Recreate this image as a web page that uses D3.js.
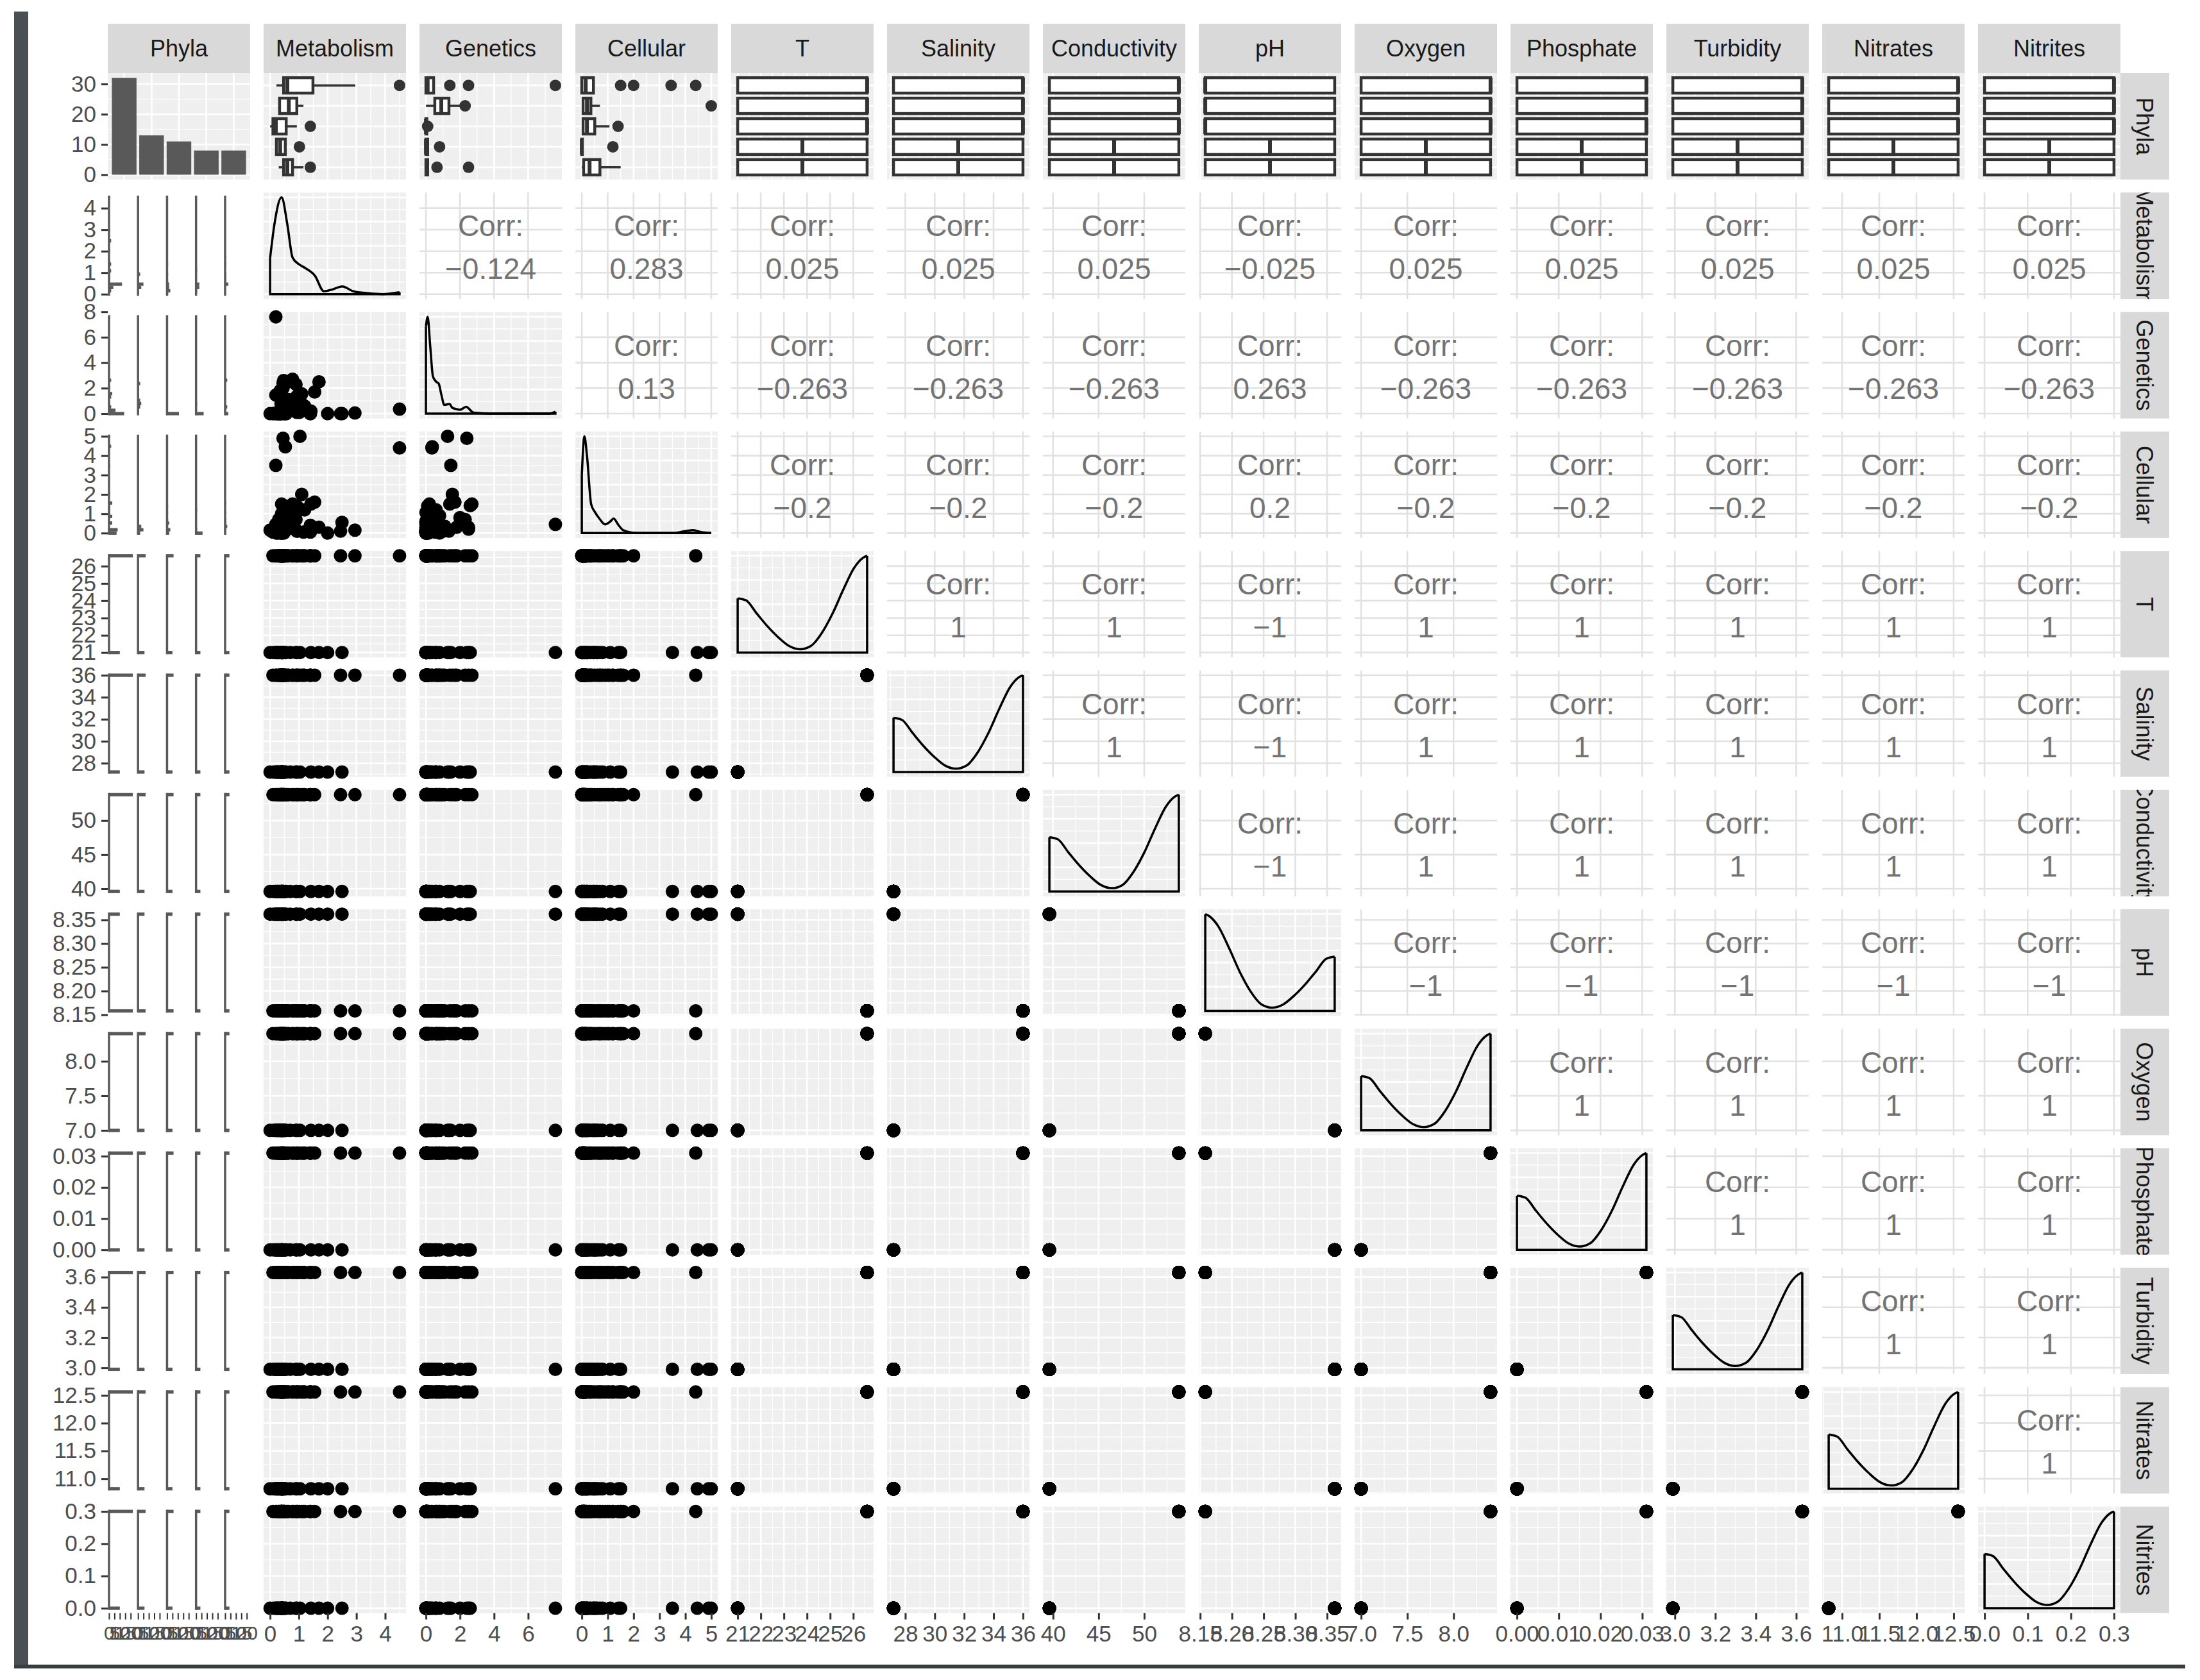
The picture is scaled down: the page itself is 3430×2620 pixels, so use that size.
<!DOCTYPE html>
<html lang="en">
<head>
	<meta charset="UTF-8">
	<title>phyla pairs</title>
	<script src="https://d3js.org/d3.v7.min.js"></script>
	<style type="text/css">
		body { margin: 0; background: #fff; }
		svg text { font-family: "Liberation Sans", Arial, sans-serif; }
	</style>
</head>
<body>
<script type="text/javascript">

var varNames = ['Phyla', 'Metabolism', 'Genetics', 'Cellular', 'T', 'Salinity', 'Conductivity', 'pH', 'Oxygen', 'Phosphate', 'Turbidity', 'Nitrates', 'Nitrites'];

// the environment variables only take two values: group A (1) and group B (0)
var envGroupA = [26.6, 36.0, 53.8, 8.158, 8.4, 0.031, 3.63, 12.56, 0.30];
var envGroupB = [21.0, 27.2, 39.6, 8.362, 7.0, 0.000, 2.99, 10.82, 0.00];

// observations
var obsPhylum = [
	1,1,1,1,1,1,1,1,1,1,1,1,1,1,1,1,1,1,1,1,1,1,
	2,2,2,2,2,2,2,
	3,3,3,3,3,3,
	4,4,4,4,
	5,5,5,5,
	1,1,1,1,1,1,1,1,1,1,
	2,2,2,2,2,2,
	3,3,3,3,3,
	4,4,4,4,
	5,5,5,5];
var obsGroup = [
	1,1,1,1,1,1,1,1,1,1,1,1,1,1,1,1,1,1,1,1,1,1,
	1,1,1,1,1,1,1,
	1,1,1,1,1,1,
	1,1,1,1,
	1,1,1,1,
	0,0,0,0,0,0,0,0,0,0,
	0,0,0,0,0,0,
	0,0,0,0,0,
	0,0,0,0,
	0,0,0,0];
var obsMetabolism = [
	0.30,0.35,0.40,0.42,0.45,0.38,0.48,0.50,0.36,0.44,0.40,0.95,1.20,0.40,1.10,1.55,2.45,2.95,4.50,0.60,0.80,1.40,
	0.40,0.45,0.65,0.90,1.16,0.35,0.50,
	0.10,0.20,0.40,0.56,0.93,1.40,
	0.22,0.40,1.02,0.30,
	0.47,0.50,0.78,1.40,
	0.20,0.20,0.53,1.04,0.47,1.42,2.00,2.50,0.40,0.45,
	0.33,0.42,0.93,0.45,0.38,0.70,
	0.12,0.25,0.40,0.00,0.30,
	0.25,0.40,0.44,0.35,
	0.55,0.42,1.70,0.90];
var obsGenetics = [
	0.00,0.00,0.05,0.05,0.10,0.00,0.15,0.00,0.10,0.20,0.05,0.35,0.60,1.40,1.55,1.70,0.00,0.05,0.35,2.50,0.80,0.00,
	1.00,0.70,1.10,2.30,0.55,1.80,0.90,
	0.00,0.00,0.05,0.00,0.10,0.00,
	0.05,0.80,0.10,0.00,
	0.00,0.65,2.70,0.10,
	7.60,1.46,0.37,1.27,2.60,0.20,0.00,0.00,0.60,2.00,
	0.00,0.52,1.35,2.40,0.80,0.30,
	0.00,0.00,0.00,0.00,0.05,
	0.00,0.10,0.05,0.00,
	0.00,0.60,2.50,0.20];
var obsCellular = [
	0.05,0.10,0.05,0.00,0.10,0.15,0.00,0.60,0.05,0.80,1.00,0.10,1.20,1.50,2.00,1.60,0.10,0.15,4.40,0.20,0.90,0.05,
	0.10,0.20,0.35,0.70,0.05,0.30,0.15,
	0.05,0.30,0.50,1.07,1.40,0.10,
	0.00,0.00,1.20,0.05,
	0.07,0.70,1.50,0.40,
	0.45,3.50,4.46,5.00,1.42,1.50,0.00,0.55,0.20,0.80,
	0.05,0.35,0.10,4.90,0.20,0.60,
	0.08,0.20,0.45,0.15,0.70,
	0.00,0.02,0.10,0.00,
	0.20,0.50,0.30,1.10];

// tick labels
var ticksX = [[], [0,1,2,3,4], [0,2,4,6], [0,1,2,3,4,5], [21,22,23,24,25,26], [28,30,32,34,36], [40,45,50],
	[8.15,8.20,8.25,8.30,8.35], [7.0,7.5,8.0], [0,0.01,0.02,0.03], [3.0,3.2,3.4,3.6], [11.0,11.5,12.0,12.5], [0,0.1,0.2,0.3]];
var ticksY = [[0,10,20,30], [0,1,2,3,4], [0,2,4,6,8], [0,1,2,3,4,5], [21,22,23,24,25,26], [28,30,32,34,36], [40,45,50],
	[8.15,8.20,8.25,8.30,8.35], [7.0,7.5,8.0], [0,0.01,0.02,0.03], [3.0,3.2,3.4,3.6], [11.0,11.5,12.0,12.5], [0,0.1,0.2,0.3]];
var tickDec = [0,0,0,0,0,0,0,2,1,2,1,1,1];
var facetTicks = [0, 5, 10, 15, 20];
var densTicks = [0, 0.25, 0.5, 0.75, 1];

// boxplots: [q1, median, q3, whisker low, whisker high]
var boxMetabolism = [[0.47,0.60,1.49,0.22,2.96], [0.33,0.65,0.93,0.30,1.16], [0.10,0.20,0.56,0.00,0.93], [0.22,0.35,0.53,0.20,0.55], [0.47,0.60,0.78,0.30,1.16]];
var outMetabolism = [[4.5], [], [1.4], [1.02], [1.4]];
var boxGenetics = [[0,0.10,0.45,0,0.45], [0.52,0.90,1.35,0,2.0], [0,0,0.05,0,0.05], [0,0,0.10,0,0.10], [0,0.05,0.10,0,0.10]];
var outGenetics = [[1.4,2.5,7.6], [2.3], [0.1], [0.8], [0.65,2.5]];
var boxCellular = [[0,0.15,0.45,0,0.45], [0.05,0.20,0.35,0,0.70], [0.05,0.20,0.50,0,1.07], [0,0,0.02,0,0.05], [0.07,0.30,0.70,0,1.50]];
var outCellular = [[1.5,2.0,3.45,4.4], [5.0], [1.4], [1.2], []];

// density curves (relative height)
var densMx = [0, 0.15, 0.4, 0.6, 0.78, 1.0, 1.22, 1.56, 1.87, 2.18, 2.51, 2.89, 3.4, 3.9, 4.5];
var densMy = [0.37, 0.72, 1.0, 0.72, 0.38, 0.31, 0.27, 0.19, 0.03, 0.05, 0.08, 0.03, 0.01, 0.0, 0.02];
var densGx = [0, 0.1, 0.25, 0.41, 0.6, 0.75, 0.9, 1.08, 1.38, 1.55, 1.72, 2.0, 2.36, 2.8, 4.0, 6.0, 7.2, 7.6];
var densGy = [0.9, 1.0, 0.7, 0.385, 0.33, 0.31, 0.2, 0.09, 0.1, 0.06, 0.05, 0.04, 0.07, 0.01, 0.0, 0.0, 0.0, 0.02];
var densCx = [0, 0.1, 0.2, 0.36, 0.5, 0.68, 0.9, 1.1, 1.23, 1.4, 1.6, 2.15, 3.5, 4.0, 4.3, 4.6, 5.0];
var densCy = [0.6, 1.0, 0.8, 0.3, 0.22, 0.15, 0.09, 0.12, 0.15, 0.09, 0.03, 0.0, 0.0, 0.02, 0.03, 0.01, 0.0];
// env vars: position from group B value (0) to group A value (1)
var densEnvT = [0, 0.064, 0.147, 0.231, 0.314, 0.398, 0.482, 0.565, 0.649, 0.732, 0.816, 0.9, 0.967, 1.0];
var densEnvH = [0.56, 0.54, 0.404, 0.27, 0.157, 0.067, 0.034, 0.067, 0.20, 0.40, 0.65, 0.876, 0.978, 1.0];

// correlations, upper triangle row by row
var corrMetabolism = [-0.124, 0.283, 0.025, 0.025, 0.025, -0.025, 0.025, 0.025, 0.025, 0.025, 0.025];
var corrGenetics = [0.13, -0.263, -0.263, -0.263, 0.263, -0.263, -0.263, -0.263, -0.263, -0.263];
var corrCellular = [-0.2, -0.2, -0.2, 0.2, -0.2, -0.2, -0.2, -0.2, -0.2];
var corrT = [1, 1, -1, 1, 1, 1, 1, 1];
var corrSalinity = [1, -1, 1, 1, 1, 1, 1];
var corrConductivity = [-1, 1, 1, 1, 1, 1];
var corrPH = [-1, -1, -1, -1, -1];
var corrOxygen = [1, 1, 1, 1];
var corrPhosphate = [1, 1, 1];
var corrTurbidity = [1, 1];
var corrNitrates = [1];
var corrRows = [null, corrMetabolism, corrGenetics, corrCellular, corrT, corrSalinity, corrConductivity,
	corrPH, corrOxygen, corrPhosphate, corrTurbidity, corrNitrates];

// ---- layout
var W = 3430, H = 2620;
var x0 = 168, colStep = 243, pw = 222;
var y0 = 114, rowStep = 186.3, ph = 166;
var nVar = varNames.length;
var dark = '#333333';
var panelGray = '#EFEFEF';
var fontFam = '"Liberation Sans", Arial, sans-serif';

var svg = d3.select('body').append('svg').attr('width', W).attr('height', H);
var defs = svg.append('defs');

function colX(j) { return x0 + j * colStep; }
function rowY(i) { return y0 + i * rowStep; }

function vals(k) {
	if (k === 1) return obsMetabolism;
	if (k === 2) return obsGenetics;
	if (k === 3) return obsCellular;
	return obsGroup.map(function (g) { return g === 1 ? envGroupA[k - 4] : envGroupB[k - 4]; });
}
function dom(k) {
	var e = d3.extent(vals(k));
	var pad = (e[1] - e[0]) * 0.05;
	return [e[0] - pad, e[1] + pad];
}
function xScale(k) { return d3.scaleLinear().domain(dom(k)).range([colX(k), colX(k) + pw]); }
function yScale(k) { return d3.scaleLinear().domain(dom(k)).range([rowY(k) + ph, rowY(k)]); }

function minorsOf(t, d) {
	var s = t[1] - t[0], out = [];
	for (var v = t[0] - s / 2; v <= d[1] + 1e-9; v += s) if (v >= d[0]) out.push(v);
	return out;
}
function inside(t, d) { return t.filter(function (v) { return v >= d[0] - 1e-9 && v <= d[1] + 1e-9; }); }

function vLines(g, xs, list, py, w, c) {
	g.selectAll(null).data(list).enter().append('line')
		.attr('x1', function (d) { return xs(d); }).attr('x2', function (d) { return xs(d); })
		.attr('y1', py).attr('y2', py + ph)
		.attr('stroke', c).attr('stroke-width', w);
}
function hLines(g, ys, list, px, w, c) {
	g.selectAll(null).data(list).enter().append('line')
		.attr('y1', function (d) { return ys(d); }).attr('y2', function (d) { return ys(d); })
		.attr('x1', px).attr('x2', px + pw)
		.attr('stroke', c).attr('stroke-width', w);
}
function grayBg(g, px, py) {
	g.append('rect').attr('x', px).attr('y', py).attr('width', pw).attr('height', ph).attr('fill', panelGray);
}
function gridX(g, xs, xt, py) {
	vLines(g, xs, minorsOf(xt, xs.domain()), py, 1.3, '#fff');
	vLines(g, xs, inside(xt, xs.domain()), py, 2.6, '#fff');
}
function gridY(g, ys, yt, px) {
	hLines(g, ys, minorsOf(yt, ys.domain()), px, 1.3, '#fff');
	hLines(g, ys, inside(yt, ys.domain()), px, 2.6, '#fff');
}

//--Phyla bar chart (top left)
function drawBars(g) {
	var px = colX(0), py = rowY(0);
	var counts = d3.range(1, 6).map(function (p) {
		return obsPhylum.filter(function (v) { return v === p; }).length;
	});
	var mx = d3.max(counts);
	var xs = d3.scaleLinear().domain([0.4, 5.6]).range([px, px + pw]);
	var ys = d3.scaleLinear().domain([-mx * 0.05, mx * 1.05]).range([py + ph, py]);
	grayBg(g, px, py);
	gridY(g, ys, ticksY[0], px);
	vLines(g, xs, [1, 2, 3, 4, 5], py, 2.6, '#fff');
	g.selectAll(null).data(counts).enter().append('rect')
		.attr('x', function (d, i) { return xs(i + 1 - 0.45); })
		.attr('width', xs(0.9) - xs(0))
		.attr('y', function (d) { return ys(d); })
		.attr('height', function (d) { return ys(0) - ys(d); })
		.attr('fill', '#595959');
	return ys;
}

//--boxplots in the top row
function boxStats(v) {
	v = v.slice().sort(d3.ascending);
	var q1 = d3.quantileSorted(v, 0.25), md = d3.quantileSorted(v, 0.5), q3 = d3.quantileSorted(v, 0.75);
	var iqr = q3 - q1;
	var lo = d3.min(v.filter(function (x) { return x >= q1 - 1.5 * iqr - 1e-9; }));
	var hi = d3.max(v.filter(function (x) { return x <= q3 + 1.5 * iqr + 1e-9; }));
	return { s: [q1, md, q3, lo, hi], out: v.filter(function (x) { return x < lo || x > hi; }) };
}
function drawBoxes(g, j) {
	var px = colX(j), py = rowY(0);
	var xs = xScale(j);
	var ys = d3.scaleLinear().domain([0.4, 5.6]).range([py, py + ph]);
	grayBg(g, px, py);
	gridX(g, xs, ticksX[j], py);
	hLines(g, ys, [1, 2, 3, 4, 5], px, 2.6, '#fff');
	var v = vals(j);
	for (var p = 1; p <= 5; p++) {
		var s, out;
		if (j === 1) { s = boxMetabolism[p - 1]; out = outMetabolism[p - 1]; }
		else if (j === 2) { s = boxGenetics[p - 1]; out = outGenetics[p - 1]; }
		else if (j === 3) { s = boxCellular[p - 1]; out = outCellular[p - 1]; }
		else {
			var st = boxStats(v.filter(function (d, i) { return obsPhylum[i] === p; }));
			s = st.s; out = st.out;
		}
		var yc = ys(p), hh = 12;
		g.append('line').attr('x1', xs(s[3])).attr('x2', xs(s[0])).attr('y1', yc).attr('y2', yc)
			.attr('stroke', dark).attr('stroke-width', 3.5);
		g.append('line').attr('x1', xs(s[2])).attr('x2', xs(s[4])).attr('y1', yc).attr('y2', yc)
			.attr('stroke', dark).attr('stroke-width', 3.5);
		g.append('rect').attr('x', xs(s[0])).attr('y', yc - hh)
			.attr('width', Math.max(0, xs(s[2]) - xs(s[0]))).attr('height', 2 * hh)
			.attr('fill', '#fff').attr('stroke', dark).attr('stroke-width', 4.5);
		g.append('line').attr('x1', xs(s[1])).attr('x2', xs(s[1])).attr('y1', yc - hh).attr('y2', yc + hh)
			.attr('stroke', dark).attr('stroke-width', 6);
		g.selectAll(null).data(out).enter().append('circle')
			.attr('cx', function (d) { return xs(d); }).attr('cy', yc).attr('r', 9).attr('fill', dark);
	}
}

//--faceted histograms in the Phyla column
var facetW = 41, facetGap = (pw - 5 * facetW) / 4;
function facetScale(p) {
	var fx = colX(0) + p * (facetW + facetGap);
	return d3.scaleLinear().domain([-1.15, 23.15]).range([fx, fx + facetW]);
}
function drawFacetHist(g, i) {
	var ys = yScale(i);
	var v = vals(i);
	var e = d3.extent(v);
	var bw = (e[1] - e[0]) / 29;
	for (var p = 0; p < 5; p++) {
		var fs = facetScale(p);
		var sub = v.filter(function (d, k) { return obsPhylum[k] === p + 1; });
		var counts = d3.rollup(sub, function (a) { return a.length; }, function (d) { return Math.round((d - e[0]) / bw); });
		g.append('line').attr('x1', fs(0)).attr('x2', fs(0))
			.attr('y1', ys(e[0] - bw / 2)).attr('y2', ys(e[1] + bw / 2))
			.attr('stroke', '#595959').attr('stroke-width', 3.5);
		g.selectAll(null).data(Array.from(counts)).enter().append('rect')
			.attr('x', fs(0))
			.attr('width', function (d) { return fs(d[1]) - fs(0); })
			.attr('y', function (d) { return ys(e[0] + d[0] * bw + bw / 2); })
			.attr('height', function (d) { return Math.max(5, ys(e[0] + d[0] * bw - bw / 2) - ys(e[0] + d[0] * bw + bw / 2)); })
			.attr('fill', '#595959');
	}
}

//--diagonal densities
function drawDensity(g, k) {
	var px = colX(k), py = rowY(k);
	var xs = xScale(k);
	var hs = d3.scaleLinear().domain([-0.05, 1.05]).range([py + ph, py]);
	grayBg(g, px, py);
	gridX(g, xs, ticksX[k], py);
	gridY(g, hs, densTicks, px);
	var xv, hv;
	if (k === 1) { xv = densMx; hv = densMy; }
	else if (k === 2) { xv = densGx; hv = densGy; }
	else if (k === 3) { xv = densCx; hv = densCy; }
	else {
		var a = envGroupA[k - 4], b = envGroupB[k - 4];
		xv = densEnvT.map(function (t) { return b + t * (a - b); });
		hv = densEnvH;
	}
	var pts = xv.map(function (x, i) { return [xs(x), hs(hv[i])]; });
	pts.sort(function (p, q) { return p[0] - q[0]; });
	var first = pts[0], last = pts[pts.length - 1];
	g.append('path')
		.attr('d', 'M' + first[0] + ',' + first[1] + 'L' + first[0] + ',' + hs(0) + 'L' + last[0] + ',' + hs(0) + 'L' + last[0] + ',' + last[1])
		.attr('fill', 'none').attr('stroke', '#000').attr('stroke-width', 3.5);
	g.append('path')
		.attr('d', d3.line().curve(d3.curveMonotoneX)(pts))
		.attr('fill', 'none').attr('stroke', '#000').attr('stroke-width', 3.5);
}

//--scatter plots in the lower triangle
function drawScatter(g, i, j) {
	var px = colX(j), py = rowY(i);
	var xs = xScale(j), ys = yScale(i);
	grayBg(g, px, py);
	gridX(g, xs, ticksX[j], py);
	gridY(g, ys, ticksY[i], px);
	var xv = vals(j), yv = vals(i);
	g.selectAll(null).data(xv).enter().append('circle')
		.attr('cx', function (d) { return xs(d); })
		.attr('cy', function (d, k) { return ys(yv[k]); })
		.attr('r', 10.5).attr('fill', '#000');
}

//--correlation text in the upper triangle
function drawCorr(g, i, j) {
	var px = colX(j), py = rowY(i);
	var xs = xScale(j), ys = yScale(i);
	g.append('rect').attr('x', px).attr('y', py).attr('width', pw).attr('height', ph).attr('fill', '#fff');
	vLines(g, xs, inside(ticksX[j], xs.domain()), py, 2.6, '#E2E2E2');
	hLines(g, ys, inside(ticksY[i], ys.domain()), px, 2.6, '#E2E2E2');
	var v = corrRows[i][j - i - 1];
	var cx = px + pw / 2, cy = py + ph / 2;
	g.append('text').attr('x', cx).attr('y', cy - 31).attr('dy', '0.35em')
		.attr('text-anchor', 'middle').style('font-size', '46px').attr('fill', '#737373').text('Corr:');
	g.append('text').attr('x', cx).attr('y', cy + 36).attr('dy', '0.35em')
		.attr('text-anchor', 'middle').style('font-size', '46px').attr('fill', '#737373')
		.text((v < 0 ? '\u2212' : '') + String(Math.abs(v)));
}

var countScale;
for (var i = 0; i < nVar; i++) {
	for (var j = 0; j < nVar; j++) {
		var g = svg.append('g');
		if (i === 0 && j === 0) countScale = drawBars(g);
		else if (i === 0) drawBoxes(g, j);
		else if (j === 0) drawFacetHist(g, i);
		else if (i === j) drawDensity(g, i);
		else if (i > j) drawScatter(g, i, j);
		else drawCorr(g, i, j);
	}
}

//--axes
function styleAxis(a, fs) {
	a.attr('font-size', fs).attr('font-family', fontFam);
	a.select('.domain').remove();
	a.selectAll('.tick line').attr('stroke', dark).attr('stroke-width', 3);
	a.selectAll('.tick text').attr('fill', '#4D4D4D');
}
for (var i = 0; i < nVar; i++) {
	var sc = i === 0 ? countScale : yScale(i);
	var a = svg.append('g').attr('transform', 'translate(' + x0 + ',0)')
		.call(d3.axisLeft(sc).tickValues(ticksY[i]).tickFormat(d3.format('.' + tickDec[i] + 'f')).tickSize(10).tickPadding(8));
	styleAxis(a, 35);
}
var yBottom = rowY(nVar - 1) + ph;
for (var j = 1; j < nVar; j++) {
	var a = svg.append('g').attr('transform', 'translate(0,' + yBottom + ')')
		.call(d3.axisBottom(xScale(j)).tickValues(ticksX[j]).tickFormat(d3.format('.' + tickDec[j] + 'f')).tickSize(10).tickPadding(10));
	styleAxis(a, 35);
}
for (var p = 0; p < 5; p++) {
	var a = svg.append('g').attr('transform', 'translate(0,' + yBottom + ')')
		.call(d3.axisBottom(facetScale(p)).tickValues(facetTicks).tickFormat(d3.format('d')).tickSize(10).tickPadding(10));
	styleAxis(a, 30);
	a.selectAll('.tick line').attr('stroke-width', 2);
}

//--strips
var stripTop = 37, stripH = y0 - stripTop;
var stripX = colX(nVar - 1) + pw, stripW = 76;
varNames.forEach(function (name, k) {
	var sx = colX(k);
	svg.append('rect').attr('x', sx).attr('y', stripTop).attr('width', pw).attr('height', stripH).attr('fill', '#D9D9D9');
	defs.append('clipPath').attr('id', 'ct' + k).append('rect')
		.attr('x', sx).attr('y', stripTop).attr('width', pw).attr('height', stripH);
	svg.append('text').attr('clip-path', 'url(#ct' + k + ')')
		.attr('x', sx + pw / 2).attr('y', stripTop + stripH / 2).attr('dy', '0.35em')
		.attr('text-anchor', 'middle').style('font-size', '36px').attr('fill', '#1A1A1A').text(name);

	var sy = rowY(k);
	svg.append('rect').attr('x', stripX).attr('y', sy).attr('width', stripW).attr('height', ph).attr('fill', '#D9D9D9');
	defs.append('clipPath').attr('id', 'cr' + k).append('rect')
		.attr('x', stripX).attr('y', sy).attr('width', stripW).attr('height', ph);
	svg.append('g').attr('clip-path', 'url(#cr' + k + ')')
		.append('text')
		.attr('transform', 'translate(' + (stripX + stripW / 2) + ',' + (sy + ph / 2) + ') rotate(90)')
		.attr('dy', '0.35em').attr('text-anchor', 'middle').style('font-size', '36px').attr('fill', '#1A1A1A').text(name);
});

//--frame of the screenshot
svg.append('rect').attr('x', 22).attr('y', 18).attr('width', 22).attr('height', 2584).attr('fill', '#4A4F53');
svg.append('rect').attr('x', 22).attr('y', 2596).attr('width', 3385).attr('height', 6).attr('fill', '#3A3D40');

</script>
</body>
</html>
